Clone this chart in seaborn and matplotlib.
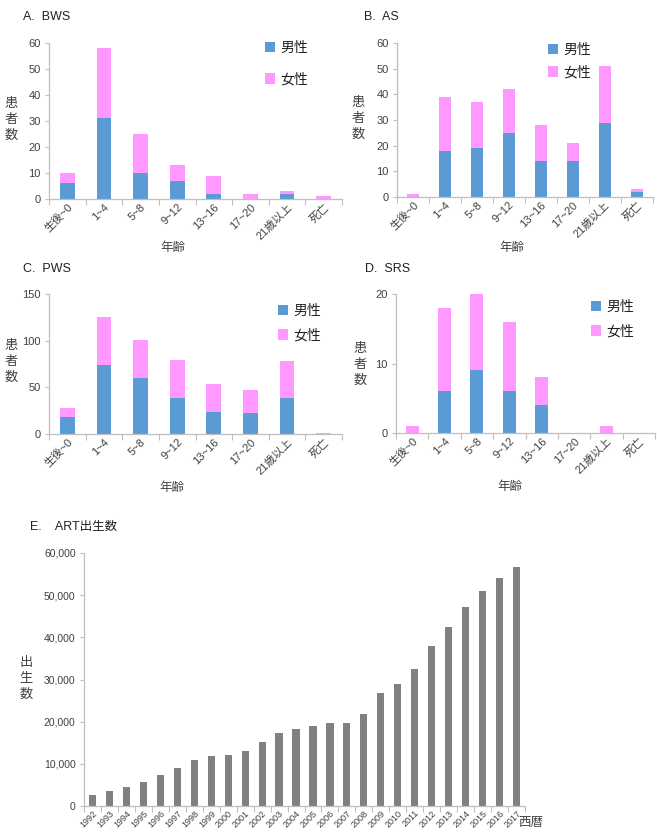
import numpy as np
import pandas as pd
import matplotlib
matplotlib.use("Agg")
import matplotlib.pyplot as plt
import seaborn as sns
from matplotlib.patches import Patch
from matplotlib.ticker import FuncFormatter, FixedLocator

# ---------------- data ----------------
age_groups = ["生後~0", "1~4", "5~8", "9~12", "13~16", "17~20", "21歳以上", "死亡"]

bws_male = [6, 31, 10, 7, 2, 0, 2, 0]
bws_female = [4, 27, 15, 6, 7, 2, 1, 1]

as_male = [0, 18, 19, 25, 14, 14, 29, 2]
as_female = [1, 21, 18, 17, 14, 7, 22, 1]

pws_male = [18, 74, 60, 39, 24, 22, 39, 0]
pws_female = [10, 51, 41, 40, 30, 25, 39, 1]

srs_male = [0, 6, 9, 6, 4, 0, 0, 0]
srs_female = [1, 12, 11, 10, 4, 0, 1, 0]

art_years = [str(y) for y in range(1992, 2018)]
art_births = [2500, 3500, 4500, 5600, 7300, 9100, 11000, 11900, 12200, 13100,
              15200, 17400, 18200, 19000, 19600, 19600, 21800, 26700, 29000,
              32400, 38000, 42500, 47300, 51000, 54100, 56600]

# ---------------- style ----------------
sns.set_theme(style="white")
plt.rcParams["font.family"] = ["Liberation Sans", "Noto Sans CJK JP", "DejaVu Sans"]

BLUE = "#5B9BD5"
PINK = "#FF99FF"
GRAY_BAR = "#808080"
TXT = "#404040"
AXC = "#BFBFBF"

W, H = 657, 835
fig = plt.figure(figsize=(W / 100, H / 100), dpi=100)


def px_axes(left, right, top, bottom):
    return fig.add_axes([left / W, 1 - bottom / H, (right - left) / W, (bottom - top) / H])


def fx(x):
    return x / W


def fy(y):
    return 1 - y / H


def style_axes(ax, n, yticks):
    for s in ["top", "right"]:
        ax.spines[s].set_visible(False)
    for s in ["left", "bottom"]:
        ax.spines[s].set_color(AXC)
        ax.spines[s].set_linewidth(0.9)
    ax.set_xlim(-0.5, n - 0.5)
    ax.set_ylim(yticks[0], yticks[-1])
    ax.set_yticks(yticks)
    ax.xaxis.set_minor_locator(FixedLocator(np.arange(-0.5, n, 1.0)))
    ax.tick_params(axis="x", which="major", length=0, pad=2)
    ax.tick_params(axis="x", which="minor", length=4, color=AXC, width=0.8, bottom=True)
    ax.tick_params(axis="y", which="major", length=3, color=AXC, width=0.8, left=True, pad=3,
                   labelsize=8, labelcolor=TXT)
    ax.set_xlabel("")
    ax.set_ylabel("")


def stacked_panel(box, male, female, yticks, title, title_xy, ylab_xy, xlab_xy, leg_xy, leg_sp):
    ax = px_axes(*box)
    df = pd.DataFrame({"age": age_groups, "male": male,
                       "total": [m + f for m, f in zip(male, female)]})
    sns.barplot(data=df, x="age", y="total", order=age_groups, color=PINK,
                width=0.4, saturation=1, ax=ax, edgecolor="none")
    sns.barplot(data=df, x="age", y="male", order=age_groups, color=BLUE,
                width=0.4, saturation=1, ax=ax, edgecolor="none")
    style_axes(ax, len(age_groups), yticks)
    ax.set_xticks(range(len(age_groups)))
    ax.set_xticklabels(age_groups, rotation=45, ha="right", rotation_mode="anchor",
                       fontsize=8, color=TXT)
    fig.text(fx(title_xy[0]), fy(title_xy[1]), title, fontsize=9, color="#222222",
             ha="left", va="center")
    fig.text(fx(ylab_xy[0]), fy(ylab_xy[1]), "患\n者\n数", fontsize=9.5, color=TXT,
             ha="center", va="center", linespacing=1.4)
    fig.text(fx(xlab_xy[0]), fy(xlab_xy[1]), "年齢", fontsize=9, color=TXT,
             ha="center", va="center")
    handles = [Patch(facecolor=BLUE, edgecolor="none", label="男性"),
               Patch(facecolor=PINK, edgecolor="none", label="女性")]
    ax.legend(handles=handles, loc="upper left", bbox_to_anchor=(fx(leg_xy[0]), fy(leg_xy[1])),
              bbox_transform=fig.transFigure, frameon=False, borderaxespad=0, borderpad=0,
              handlelength=0.75, handleheight=0.75, handletextpad=0.35,
              labelspacing=leg_sp, fontsize=10, labelcolor="#222222")
    return ax


stacked_panel((49, 342, 43, 199), bws_male, bws_female, [0, 10, 20, 30, 40, 50, 60],
              "A.  BWS", (23, 17), (11, 120), (173, 248), (265, 41), 1.25)
stacked_panel((397, 653, 43, 197), as_male, as_female, [0, 10, 20, 30, 40, 50, 60],
              "B.  AS", (364, 17), (358, 119), (512, 248), (548, 43), 0.6)
stacked_panel((49, 342, 294, 434), pws_male, pws_female, [0, 50, 100, 150],
              "C.  PWS", (23, 269), (11, 362), (172, 488), (278, 304), 0.75)
stacked_panel((396, 655, 294, 433), srs_male, srs_female, [0, 10, 20],
              "D.  SRS", (365, 269), (360, 365), (510, 487), (591, 300), 0.75)

# ---------------- panel E ----------------
axE = px_axes(84, 525, 553, 806)
dfE = pd.DataFrame({"year": art_years, "births": art_births})
sns.barplot(data=dfE, x="year", y="births", order=art_years, color=GRAY_BAR,
            width=0.42, saturation=1, ax=axE, edgecolor="none")
style_axes(axE, len(art_years), [0, 10000, 20000, 30000, 40000, 50000, 60000])
axE.yaxis.set_major_formatter(FuncFormatter(lambda v, p: f"{int(v):,}"))
axE.tick_params(axis="y", labelsize=7.5)
axE.set_xticks(range(len(art_years)))
axE.set_xticklabels(art_years, rotation=45, ha="right", rotation_mode="anchor",
                    fontsize=6.5, color=TXT)
fig.text(fx(30), fy(527), "E.    ART出生数", fontsize=9, color="#222222", ha="left", va="center")
fig.text(fx(26), fy(679), "出\n生\n数", fontsize=9.5, color=TXT, ha="center", va="center",
         linespacing=1.4)
fig.text(fx(531), fy(823), "西暦", fontsize=9, color=TXT, ha="center", va="center")

fig.savefig("out.png", dpi=100, facecolor="white")
